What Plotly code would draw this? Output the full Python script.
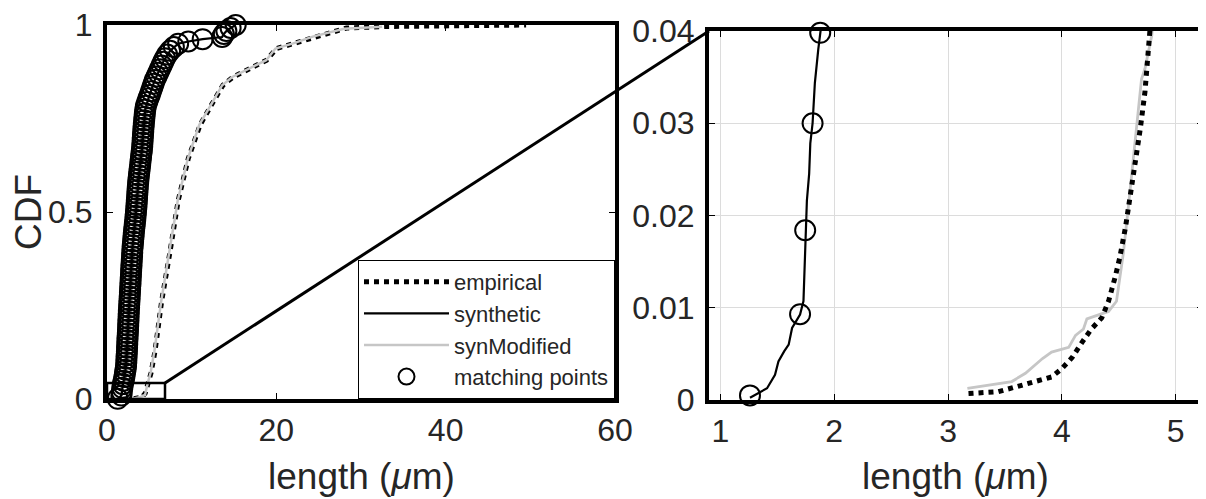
import plotly.graph_objects as go

# ---------------- data ----------------
empirical_x = [3.18, 3.44, 3.59, 3.80, 3.91, 4.00, 4.09, 4.18, 4.26, 4.35, 4.41, 4.47,
               4.51, 4.56, 4.60, 4.64, 4.69, 4.73, 4.76, 4.78, 5.20, 5.67, 6.45, 7.45,
               8.40, 9.60, 11.0, 12.55, 13.7, 14.9, 17.3, 18.85, 20.0, 22.0, 24.4, 26.7,
               28.3, 33.0, 40.0, 49.5]
empirical_y = [0.0007, 0.0009, 0.0014, 0.0021, 0.0025, 0.0034, 0.0046, 0.0063, 0.0077,
               0.0089, 0.0107, 0.0134, 0.0155, 0.0188, 0.0220, 0.0259, 0.0295, 0.0334,
               0.0373, 0.0410, 0.070, 0.128, 0.261, 0.395, 0.530, 0.643, 0.733, 0.795,
               0.839, 0.861, 0.888, 0.906, 0.937, 0.950, 0.968, 0.981, 0.992, 0.996,
               0.998, 1.0]

synmod_x = [3.17, 3.56, 3.68, 3.83, 3.91, 4.06, 4.12, 4.19, 4.22, 4.41, 4.48, 4.54,
            4.59, 4.64, 4.66, 4.70, 4.73, 4.79, 4.80, 5.15, 5.60, 6.40, 7.40, 8.35,
            9.55, 10.9, 12.5, 13.6, 14.8, 17.2, 18.8, 19.9, 22.0, 24.3, 26.5, 28.0, 32.5]
synmod_y = [0.00125, 0.0020, 0.0029, 0.0045, 0.0052, 0.0057, 0.0070, 0.0077, 0.0088,
            0.0096, 0.0107, 0.0159, 0.0216, 0.0273, 0.0295, 0.0348, 0.0359, 0.0395,
            0.0410, 0.070, 0.128, 0.261, 0.395, 0.530, 0.643, 0.733, 0.795, 0.839,
            0.861, 0.888, 0.906, 0.937, 0.951, 0.969, 0.982, 0.990, 0.995]

synthetic_x = [1.26, 1.41, 1.48, 1.51, 1.56, 1.60, 1.63, 1.70, 1.73, 1.74, 1.75, 1.76,
               1.78, 1.79, 1.81, 1.83, 1.86, 1.88, 1.97, 2.25, 2.56, 3.00, 3.42, 3.77,
               4.12, 4.52, 4.90, 5.65, 6.65, 7.45, 8.40, 9.60, 11.3, 13.6, 13.8, 14.1,
               14.6, 15.2]
synthetic_y = [0.00025, 0.00127, 0.00273, 0.00418, 0.00527, 0.0060, 0.00781, 0.00927,
               0.01072, 0.01436, 0.01836, 0.02163, 0.02454, 0.02782, 0.0300, 0.03436,
               0.0380, 0.0398, 0.049, 0.088, 0.225, 0.402, 0.500, 0.598, 0.666, 0.774,
               0.804, 0.853, 0.902, 0.931, 0.950, 0.956, 0.962, 0.968, 0.976, 0.984,
               0.992, 1.0]

match_x = [1.26, 1.70, 1.745, 1.81, 1.877, 1.97, 2.05, 2.12, 2.19, 2.25, 2.28, 2.30,
           2.32, 2.35, 2.37, 2.39, 2.41, 2.43, 2.46, 2.48, 2.50, 2.52, 2.54, 2.56, 2.58,
           2.61, 2.63, 2.66, 2.68, 2.71, 2.73, 2.76, 2.78, 2.80, 2.83, 2.85, 2.88, 2.90,
           2.93, 2.96, 2.98, 3.01, 3.04, 3.08, 3.12, 3.16, 3.20, 3.25, 3.29, 3.34, 3.38,
           3.42, 3.46, 3.49, 3.52, 3.55, 3.58, 3.61, 3.64, 3.68, 3.72, 3.77, 3.82, 3.87,
           3.92, 3.97, 4.02, 4.07, 4.12, 4.16, 4.19, 4.22, 4.25, 4.28, 4.31, 4.35, 4.39,
           4.43, 4.47, 4.52, 4.60, 4.75, 4.90, 5.05, 5.20, 5.35, 5.50, 5.65, 5.85, 6.05,
           6.25, 6.45, 6.65, 6.85, 7.10, 7.45, 7.90, 8.40, 9.60, 11.3, 13.6, 13.8, 14.1,
           14.6, 15.2]
match_y = [0.0005, 0.0093, 0.0184, 0.0300, 0.0398, 0.049, 0.059, 0.069, 0.078, 0.088,
           0.098, 0.108, 0.117, 0.127, 0.137, 0.147, 0.157, 0.166, 0.176, 0.186, 0.196,
           0.206, 0.215, 0.225, 0.235, 0.245, 0.255, 0.264, 0.274, 0.284, 0.294, 0.304,
           0.313, 0.323, 0.333, 0.343, 0.353, 0.362, 0.372, 0.382, 0.392, 0.402, 0.411,
           0.421, 0.431, 0.441, 0.451, 0.461, 0.470, 0.480, 0.490, 0.500, 0.510, 0.519,
           0.529, 0.539, 0.549, 0.559, 0.568, 0.578, 0.588, 0.598, 0.608, 0.617, 0.627,
           0.637, 0.647, 0.657, 0.666, 0.676, 0.686, 0.696, 0.706, 0.715, 0.725, 0.735,
           0.745, 0.755, 0.764, 0.774, 0.784, 0.794, 0.804, 0.813, 0.823, 0.833, 0.843,
           0.853, 0.862, 0.872, 0.882, 0.892, 0.902, 0.911, 0.921, 0.931, 0.941, 0.950,
           0.956, 0.962, 0.968, 0.976, 0.984, 0.992, 1.0]

left_xticks = [0, 20, 40, 60]
left_yticks = [0, 0.5, 1]
right_xticks = [1, 2, 3, 4, 5]
right_yticks = [0, 0.01, 0.02, 0.03, 0.04]

# zoom window drawn in the left panel
zoom_box_x = [0, 6.85]
zoom_box_y = [0, 0.043]

# ---------------- layout geometry ----------------
# the page body has an 8px margin, so the figure is shrunk by that offset
OFF = 8
W, H = 1206 - OFF, 499 - OFF
FONT = "Liberation Sans, Arial, sans-serif"
TXT = "#262626"
GRAY = "#c6c6c6"


def px_x(X):
    return (X - OFF) / W


def px_y(Y):
    return 1 - (Y - OFF) / H


L_XDOM = [px_x(107), px_x(615)]
L_YDOM = [px_y(399), px_y(25)]
R_XDOM = [px_x(709), px_x(1203)]
R_YDOM = [px_y(400), px_y(31)]
L_XR, L_YR = [0, 60], [0, 1]
R_XR, R_YR = [0.9, 5.24], [0, 0.04]

fig = go.Figure()

# left panel traces
fig.add_trace(go.Scatter(x=empirical_x, y=empirical_y, mode="lines", name="empirical",
                         line=dict(color="black", width=5, dash="dot"),
                         xaxis="x", yaxis="y"))
fig.add_trace(go.Scatter(x=synthetic_x, y=synthetic_y, mode="lines", name="synthetic",
                         line=dict(color="black", width=2.2), xaxis="x", yaxis="y"))
fig.add_trace(go.Scatter(x=synmod_x, y=synmod_y, mode="lines", name="synModified",
                         line=dict(color=GRAY, width=2.5), xaxis="x", yaxis="y"))
fig.add_trace(go.Scatter(x=match_x, y=match_y, mode="markers", name="matching points",
                         marker=dict(symbol="circle-open", size=20, color="black",
                                     line=dict(width=2, color="black")),
                         cliponaxis=False, xaxis="x", yaxis="y"))

# right panel traces (same data, zoomed axes)
fig.add_trace(go.Scatter(x=synmod_x, y=synmod_y, mode="lines", showlegend=False,
                         line=dict(color=GRAY, width=2.8), xaxis="x2", yaxis="y2"))
fig.add_trace(go.Scatter(x=empirical_x, y=empirical_y, mode="lines", showlegend=False,
                         line=dict(color="black", width=5, dash="dot"),
                         xaxis="x2", yaxis="y2"))
fig.add_trace(go.Scatter(x=synthetic_x, y=synthetic_y, mode="lines", showlegend=False,
                         line=dict(color="black", width=2.2), xaxis="x2", yaxis="y2"))
rmx = [x for x, y in zip(match_x, match_y) if y <= R_YR[1] + 1e-9]
rmy = [y for y in match_y if y <= R_YR[1] + 1e-9]
fig.add_trace(go.Scatter(x=rmx, y=rmy, mode="markers", showlegend=False,
                         marker=dict(symbol="circle-open", size=20, color="black",
                                     line=dict(width=2, color="black")),
                         cliponaxis=False, xaxis="x2", yaxis="y2"))

axis_common = dict(showline=True, mirror="allticks", linecolor="black", linewidth=4,
                   ticks="inside", ticklen=6, tickwidth=1, tickcolor="black",
                   tickfont=dict(family=FONT, size=32, color=TXT),
                   ticklabeloverflow="allow",
                   zeroline=False, automargin=False, fixedrange=True)

title_font = dict(family=FONT, size=37, color=TXT)

fig.update_layout(
    width=W, height=H,
    margin=dict(l=0, r=0, t=0, b=0),
    paper_bgcolor="white", plot_bgcolor="white",
    font=dict(family=FONT, color=TXT),
    xaxis=dict(domain=L_XDOM, range=L_XR, tickvals=left_xticks, showgrid=False,
               anchor="y", **axis_common),
    yaxis=dict(domain=L_YDOM, range=L_YR, tickvals=left_yticks, showgrid=False,
               anchor="x", ticklabelstandoff=4,
               title=dict(text="CDF", font=title_font), **axis_common),
    xaxis2=dict(domain=R_XDOM, range=R_XR, tickvals=right_xticks, showgrid=True,
                gridcolor="#dcdcdc", gridwidth=1, anchor="y2", **axis_common),
    yaxis2=dict(domain=R_YDOM, range=R_YR, tickvals=right_yticks, showgrid=True,
                gridcolor="#dcdcdc", gridwidth=1, anchor="x2", ticklabelstandoff=4,
                **axis_common),
    legend=dict(x=L_XDOM[1], xanchor="right", y=L_YDOM[0], yanchor="bottom",
                bgcolor="white", bordercolor="black", borderwidth=1,
                font=dict(family=FONT, size=22, color=TXT),
                itemwidth=85, tracegroupgap=0),
    showlegend=True,
)

# x-axis titles (placed as text under each panel)
for dom in (L_XDOM, R_XDOM):
    fig.add_annotation(text="length (<i>μ</i>m)", xref="paper", yref="paper",
                       x=(dom[0] + dom[1]) / 2, y=0, xanchor="center",
                       yanchor="bottom", showarrow=False, font=title_font)


def to_paper(x, y, xr, yr, xd, yd):
    px = xd[0] + (x - xr[0]) / (xr[1] - xr[0]) * (xd[1] - xd[0])
    py = yd[0] + (y - yr[0]) / (yr[1] - yr[0]) * (yd[1] - yd[0])
    return px, py


# zoom rectangle on left panel
fig.add_shape(type="rect", xref="x", yref="y", x0=zoom_box_x[0], x1=zoom_box_x[1],
              y0=zoom_box_y[0], y1=zoom_box_y[1], line=dict(color="black", width=2.5),
              layer="above")
# connector line from zoom rectangle to right panel corner
p0 = to_paper(zoom_box_x[1], zoom_box_y[1], L_XR, L_YR, L_XDOM, L_YDOM)
p1 = to_paper(R_XR[0], R_YR[1], R_XR, R_YR, R_XDOM, R_YDOM)
fig.add_shape(type="line", xref="paper", yref="paper", x0=p0[0], y0=p0[1],
              x1=p1[0], y1=p1[1], line=dict(color="black", width=3), layer="above")

fig.write_html("out.html")
